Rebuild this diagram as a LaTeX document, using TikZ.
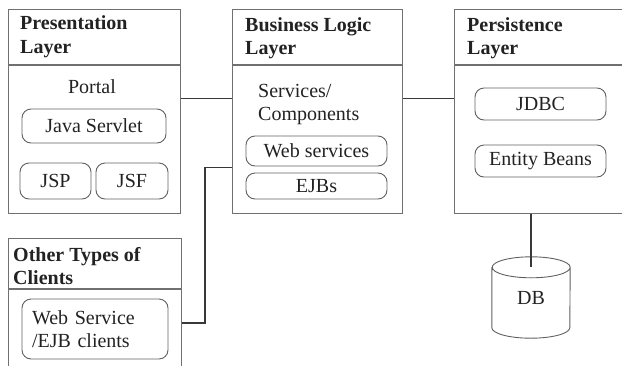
\documentclass[tikz,border=0pt]{standalone}
\usepackage{fontspec}
\setmainfont{Liberation Serif}
\newfontfamily\tnr{Liberation Serif}
\definecolor{boxgray}{HTML}{707070}
\definecolor{wiregray}{HTML}{383838}
\definecolor{pillgray}{HTML}{606060}
\definecolor{inkc}{HTML}{222222}
\begin{document}
\begin{tikzpicture}[x=1pt,y=-1pt,
  every node/.style={text=inkc, font=\tnr\fontsize{20}{23}\selectfont},
  layer/.style={draw=boxgray, line width=1.3pt, anchor=north west, inner sep=0pt},
  hline/.style={draw=boxgray, line width=1.3pt},
  pill/.style={draw=pillgray, rounded corners=9pt, line width=0.9pt, inner sep=0pt},
  title/.style={anchor=base west, inner sep=0pt, font=\tnr\bfseries\fontsize{20}{23}\selectfont},
  txt/.style={anchor=base west, inner sep=0pt},
  wire/.style={draw=wiregray, line width=1.3pt}]
\useasboundingbox (0,0) rectangle (622,365);
\clip (0,0) rectangle (622,365);

% layer boxes
\node[layer, minimum width=172pt, minimum height=204pt] (pres) at (8,9) {};
\node[layer, minimum width=170pt, minimum height=204pt] (biz) at (232,9) {};
\node[layer, minimum width=184pt, minimum height=204pt] (pers) at (454,9) {};
\node[layer, minimum width=173pt, minimum height=150pt] (other) at (8,238) {};
\draw[hline] ([yshift=-56pt]pres.north west) -- ([yshift=-56pt]pres.north east);
\draw[hline] ([yshift=-56pt]biz.north west) -- ([yshift=-56pt]biz.north east);
\draw[hline] ([yshift=-56pt]pers.north west) -- ([yshift=-56pt]pers.north east);
\draw[hline] ([yshift=-51pt]other.north west) -- ([yshift=-51pt]other.north east);

% titles
\node[title] (t1a) at (20,29) {Presentation};
\node[title] (t1b) at (20,53) {Layer};
\node[title] (t2a) at (245,31) {Business Logic};
\node[title] (t2b) at (245,54) {Layer};
\node[title] (t3a) at (467,31) {Persistence};
\node[title] (t3b) at (467,54) {Layer};
\node[title] (t4a) at (13,261) {Other Types of};
\node[title] (t4b) at (13,284) {Clients};

% presentation content
\node[anchor=base, inner sep=0pt] (portal) at (92,93) {Portal};
\node[pill, minimum width=144pt, minimum height=34pt] (servlet) at (94,126) {Java Servlet};
\node[pill, minimum width=71pt, minimum height=36pt] (jsp) at (55.5,181) {JSP};
\node[pill, minimum width=72pt, minimum height=36pt] (jsf) at (132,181) {JSF};

% business content
\node[txt] (svc1) at (258,97) {Services/};
\node[txt] (svc2) at (258,120) {Components};
\node[pill, minimum width=141pt, minimum height=30pt] (ws) at (316.5,151) {Web services};
\node[pill, minimum width=141pt, minimum height=26pt] (ejb) at (316.5,186) {EJBs};

% persistence content
\node[pill, minimum width=131pt, minimum height=32pt] (jdbc) at (540.5,104) {JDBC};
\node[pill, minimum width=131pt, minimum height=32pt] (eb) at (540.5,161) {Entity Beans};

% other clients content
\node[pill, text width=126pt, inner xsep=10pt, minimum height=60pt, align=left] (webcli) at (95,329) {Web Service\\/EJB clients};

% database
\node[inner sep=0pt, minimum width=78pt, minimum height=81pt] (db) at (531,297.5) {DB};
\draw[draw=pillgray, line width=0.9pt]
  ([yshift=-10.5pt]db.north west) -- ([yshift=10.5pt]db.south west)
  arc[start angle=180, end angle=360, x radius=39pt, y radius=10.5pt]
  -- ([yshift=-10.5pt]db.north east)
  arc[start angle=0, end angle=360, x radius=39pt, y radius=10.5pt];

% connectors
\draw[wire] ([yshift=13pt]pres.east) -- ([yshift=13pt]biz.west);
\draw[wire] ([yshift=13pt]biz.east) -- ([yshift=13pt]pers.west);
\draw[wire] ([yshift=-56pt]biz.west) -- ++(-27pt,0) |- ([yshift=6pt]webcli.east -| other.east);
\draw[wire] (db.north |- pers.south) -- ([yshift=-10.5pt]db.north);
\end{tikzpicture}
\end{document}
